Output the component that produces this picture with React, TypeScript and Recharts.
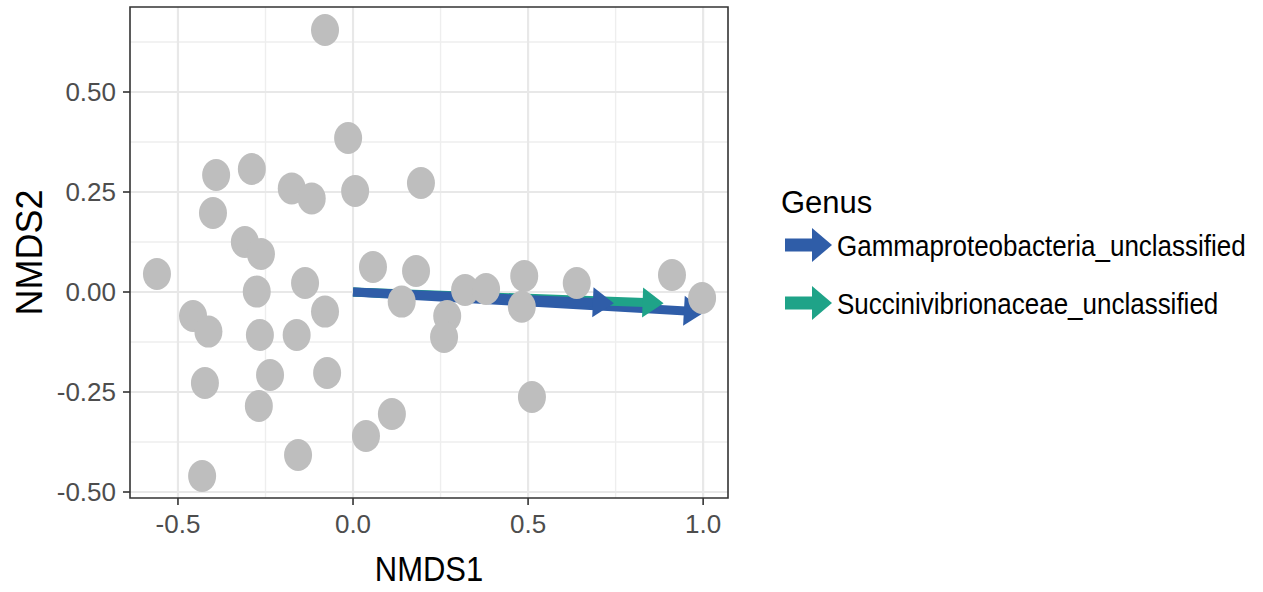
import * as React from "react";
import {
  ScatterChart,
  Scatter,
  XAxis,
  YAxis,
  CartesianGrid,
  ReferenceLine,
  ReferenceArea,
  Legend,
  Label,
} from "recharts";

// site scores
const nmds1 = [
  -0.08, -0.014, 0.006, 0.194, -0.391, -0.289, -0.4, -0.175, -0.118, -0.56,
  -0.309, -0.263, -0.275, -0.137, -0.457, -0.413, -0.266, -0.161, -0.08, -0.423,
  -0.237, -0.074, -0.269, -0.157, -0.431, 0.037, 0.111, 0.057, 0.18, 0.139,
  0.269, 0.26, 0.32, 0.38, 0.489, 0.482, 0.511, 0.639, 0.911, 0.997,
];
const nmds2 = [
  0.655, 0.385, 0.2525, 0.2725, 0.2925, 0.3075, 0.1975, 0.259, 0.234, 0.045,
  0.125, 0.095, 0.001, 0.0225, -0.06, -0.099, -0.1075, -0.1075, -0.049, -0.2275,
  -0.2075, -0.2025, -0.285, -0.4075, -0.46, -0.36, -0.305, 0.0625, 0.0525, -0.024,
  -0.06, -0.1125, 0.005, 0.0075, 0.04, -0.037, -0.2625, 0.0225, 0.0425, -0.015,
];

// fitted genus vectors (drawn in this order)
const genusNames = ["Gammaproteobacteria_unclassified", "Succinivibrionaceae_unclassified"];
const genusColors = ["#2F5DA8", "#1FA388"];
const vectorGenus = [0, 1, 0];
const vectorX = [1.005, 0.887, 0.745];
const vectorY = [-0.05, -0.028, -0.028];

const xTicks = [-0.5, 0, 0.5, 1];
const yTicks = [-0.5, -0.25, 0, 0.25, 0.5];
const xMinor = [-0.25, 0.25, 0.75];
const yMinor = [-0.375, -0.125, 0.125, 0.375, 0.625];
const xDomain = [-0.637, 1.071];
const yDomain = [-0.515, 0.7125];

const sites = nmds1.map((x, i) => ({ x, y: nmds2[i] }));

const FONT = "'Liberation Sans', Arial, Helvetica, sans-serif";

function Site(props: any) {
  return <ellipse cx={props.cx} cy={props.cy} rx={14} ry={16} fill="#BEBEBE" />;
}

function makeArrow(color: string) {
  return (p: any) => {
    const { x1, y1, x2, y2 } = p;
    const dx = x2 - x1;
    const dy = y2 - y1;
    const len = Math.sqrt(dx * dx + dy * dy) || 1;
    const ux = dx / len;
    const uy = dy / len;
    const head = 21;
    const half = 15;
    const bx = x2 - ux * head;
    const by = y2 - uy * head;
    return (
      <g>
        <line
          x1={x1}
          y1={y1}
          x2={bx + ux * 2}
          y2={by + uy * 2}
          stroke={color}
          strokeWidth={9}
          strokeLinecap="butt"
        />
        <polygon
          points={`${x2},${y2} ${bx - uy * half},${by + ux * half} ${bx + uy * half},${by - ux * half}`}
          fill={color}
        />
      </g>
    );
  };
}

function XTitle(props: any) {
  const vb = props.viewBox;
  const cx = vb.x + vb.width / 2;
  return (
    <text
      transform={`translate(${cx}, ${vb.y + 83}) scale(1, 1.12)`}
      textAnchor="middle"
      fontSize={31}
      fontFamily={FONT}
      fill="#000"
    >
      NMDS1
    </text>
  );
}

function YTitle(props: any) {
  const vb = props.viewBox;
  const cy = vb.y + vb.height / 2;
  return (
    <text
      x={42}
      y={cy}
      transform={`rotate(-90, 42, ${cy})`}
      textAnchor="middle"
      fontSize={36}
      fontFamily={FONT}
      fill="#000"
    >
      NMDS2
    </text>
  );
}

function GenusLegend() {
  return (
    <svg width={490} height={170} style={{ display: "block" }}>
      <text x={11} y={43} fontSize={31} fontFamily={FONT} fill="#000">
        Genus
      </text>
      {genusNames.map((name, i) => {
        const cy = 75 + i * 58;
        const color = genusColors[i];
        return (
          <g key={name}>
            <rect x={15} y={cy - 6.5} width={29} height={13} fill={color} />
            <polygon points={`${62},${cy} ${42},${cy - 17} ${42},${cy + 17}`} fill={color} />
            <text
              transform={`translate(67, ${cy + 11}) scale(1, 1.14)`}
              fontSize={26}
              fontFamily={FONT}
              fill="#000"
            >
              {name}
            </text>
          </g>
        );
      })}
    </svg>
  );
}

export default function App() {
  return (
    <div style={{ position: "absolute", left: 0, top: 0, background: "#fff" }}>
      <ScatterChart
        width={1263}
        height={592}
        margin={{ top: 7, right: 535, bottom: 0, left: 0 }}
      >
        <CartesianGrid
          verticalValues={xMinor}
          horizontalValues={yMinor}
          stroke="#EEEEEE"
          strokeWidth={1.4}
        />
        <CartesianGrid
          verticalValues={xTicks}
          horizontalValues={yTicks}
          stroke="#E8E8E8"
          strokeWidth={2.2}
        />
        <XAxis
          type="number"
          dataKey="x"
          domain={xDomain}
          ticks={xTicks}
          allowDataOverflow
          height={94}
          axisLine={false}
          tickLine={{ stroke: "#333333", strokeWidth: 1.6 }}
          tickSize={7}
          tickMargin={10}
          tickFormatter={(v: number) => v.toFixed(1)}
          tick={{ fill: "#4D4D4D", fontSize: 26, fontFamily: FONT }}
        >
          <Label content={XTitle} />
        </XAxis>
        <YAxis
          type="number"
          dataKey="y"
          domain={yDomain}
          ticks={yTicks}
          allowDataOverflow
          width={130}
          axisLine={false}
          tickLine={{ stroke: "#333333", strokeWidth: 1.6 }}
          tickSize={7}
          tickMargin={7}
          tickFormatter={(v: number) => v.toFixed(2)}
          tick={{ fill: "#4D4D4D", fontSize: 26, fontFamily: FONT }}
        >
          <Label content={YTitle} />
        </YAxis>
        <Scatter data={sites} shape={Site} isAnimationActive={false} />
        {vectorGenus.map((g, i) => (
          <ReferenceLine
            key={`vec-${i}`}
            segment={[
              { x: 0, y: 0 },
              { x: vectorX[i], y: vectorY[i] },
            ]}
            ifOverflow="visible"
            shape={makeArrow(genusColors[g])}
          />
        ))}
        <ReferenceArea
          x1={xDomain[0]}
          x2={xDomain[1]}
          y1={yDomain[0]}
          y2={yDomain[1]}
          fill="none"
          fillOpacity={0}
          stroke="#333333"
          strokeWidth={1.6}
          ifOverflow="visible"
        />
        <Legend
          layout="horizontal"
          verticalAlign="middle"
          align="center"
          wrapperStyle={{ left: 770, top: 170, width: 490, height: 170 }}
          content={GenusLegend}
        />
      </ScatterChart>
    </div>
  );
}
